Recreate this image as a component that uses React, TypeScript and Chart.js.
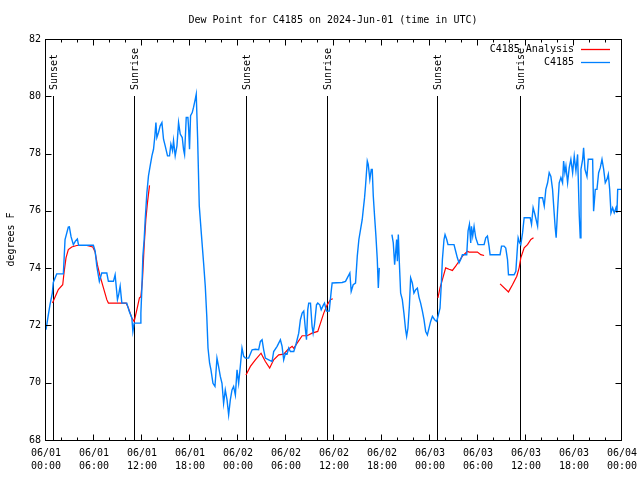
import React, { useEffect, useRef } from 'react';
import { Chart, registerables } from 'chart.js';

Chart.register(...registerables);

const FONT = '"DejaVu Sans Mono", "Liberation Mono", monospace';

const titleText = 'Dew Point for C4185 on 2024-Jun-01 (time in UTC)';
const yAxisTitle = 'degrees F';
const seriesNames = ['C4185 Analysis', 'C4185'];
const seriesColors = ['#ff0000', '#0080ff'];

const tickDates = ['06/01', '06/01', '06/01', '06/01', '06/02', '06/02', '06/02', '06/02', '06/03', '06/03', '06/03', '06/03', '06/04'];
const tickTimes = ['00:00', '06:00', '12:00', '18:00', '00:00', '06:00', '12:00', '18:00', '00:00', '06:00', '12:00', '18:00', '00:00'];

const sunLabels = ['Sunset', 'Sunrise', 'Sunset', 'Sunrise', 'Sunset', 'Sunrise'];
const sunHours = [0.91, 11.06, 24.96, 35.1, 48.87, 59.19];
const sunLineTop = 80;

// C4185 observations (hours since 06/01 00:00 UTC, degrees F)
const obsHours = [
  0, 0.25, 0.5, 0.79, 0.91, 1.34, 2.17, 2.38, 2.79, 2.92, 3.13, 3.42, 3.69, 3.92, 4.07, 5.92,
  6.14, 6.35, 6.67, 6.97, 7.6, 7.8, 8.43, 8.64, 8.93, 9.08, 9.27, 9.48, 10.1, 10.39, 10.73, 10.86,
  11.02, 11.77, 11.86, 11.98, 12.11, 12.27, 12.4, 12.61, 12.81, 13.02, 13.24, 13.44, 13.61, 13.74,
  13.86, 14.06, 14.27, 14.49, 14.69, 14.9, 15.19, 15.44, 15.61, 15.82, 15.94, 16.15, 16.37, 16.57,
  16.78, 17.03, 17.19, 17.32, 17.53, 17.74, 17.82, 17.94, 18.07, 18.28, 18.44, 18.66, 18.78, 18.95,
  19.16, 19.41, 19.7, 19.91, 20.1, 20.25, 20.45, 20.62, 20.87, 21.12, 21.37, 21.57, 21.79, 22.0,
  22.2, 22.41, 22.63, 22.83, 23.04, 23.25, 23.45, 23.67, 23.88, 24.08, 24.29, 24.5, 24.71, 24.92,
  25.33, 25.76, 26.17, 26.58, 26.8, 27.01, 27.21, 27.42, 27.84, 28.26, 28.46, 28.89, 29.3, 29.51,
  29.71, 29.93, 30.14, 30.34, 30.55, 30.97, 31.18, 31.39, 31.59, 31.8, 32.02, 32.22, 32.43, 32.56,
  32.72, 32.84, 33.06, 33.26, 33.39, 33.56, 33.81, 33.97, 34.22, 34.4, 34.65, 34.81, 35.06, 35.4,
  35.65, 35.77, 37.02, 37.44, 37.98, 38.15, 38.4, 38.69, 38.91, 39.11, 39.32, 39.53, 39.66, 39.82,
  39.94, 40.03, 40.16, 40.28, 40.48, 40.66, 40.78, 40.91, 41.07, 41.24, 41.41, 41.54, 41.66, 42.4,
  43.24, 43.41, 43.58, 43.7, 43.83, 43.92, 44.04, 44.17, 44.33, 44.54, 44.74, 44.95, 45.08, 45.24,
  45.42, 45.58, 45.79, 45.99, 46.21, 46.42, 46.62, 46.83, 47.05, 47.25, 47.46, 47.67, 47.87, 48.08,
  48.3, 48.58, 48.84, 49.0, 49.25, 49.42, 49.55, 49.75, 49.88, 50.09, 50.25, 51.0, 51.21, 51.42,
  51.63, 51.84, 52.05, 52.59, 52.76, 52.93, 53.09, 53.18, 53.34, 53.51, 53.72, 54.01, 54.76, 54.97,
  55.18, 55.38, 55.51, 56.76, 56.94, 57.26, 57.47, 57.69, 57.81, 58.51, 58.73, 58.94, 59.02, 59.19,
  59.35, 59.57, 59.77, 60.52, 60.69, 60.89, 61.11, 61.45, 61.65, 62.07, 62.28, 62.48, 62.7, 62.9,
  63.11, 63.32, 63.52, 63.65, 63.77, 63.95, 64.15, 64.36, 64.57, 64.7, 64.86, 64.99, 65.2, 65.4,
  65.61, 65.83, 66.03, 66.24, 66.45, 66.66, 66.78, 66.87, 67.08, 67.2, 67.37, 67.62, 67.78, 68.33,
  68.45, 68.66, 68.87, 69.08, 69.28, 69.5, 69.71, 69.91, 70.12, 70.29, 70.46, 70.62, 70.83, 71.03,
  71.25, 71.37, 71.46, 71.88,
];
const obsValues = [
  71.85, 72.3, 72.73, 73.13, 73.5, 73.8, 73.8, 75.0, 75.43, 75.44, 75.1, 74.82, 74.95, 75.02, 74.8, 74.8,
  74.6, 74.07, 73.54, 73.83, 73.83, 73.54, 73.54, 73.77, 72.9, 73.07, 73.37, 72.78, 72.78, 72.5, 72.26, 71.79,
  72.08, 72.08, 72.43, 73.25, 74.42, 75.0, 75.7, 76.63, 77.22, 77.57, 77.92, 78.15, 78.62, 79.08,
  78.56, 78.73, 78.97, 79.08, 78.5, 78.27, 77.92, 77.92, 78.33, 78.1, 78.45, 77.92, 78.27, 79.08,
  78.68, 78.56, 78.15, 77.97, 79.26, 79.26, 78.91, 78.15, 79.32, 79.43, 79.61, 79.9, 80.07, 78.56,
  76.17, 75.23, 74.18, 73.37, 72.3, 71.21, 70.68, 70.45, 69.98, 69.87, 70.86, 70.57, 70.22, 69.98,
  69.28, 69.75, 69.4, 68.88, 69.4, 69.75, 69.87, 69.57, 70.45, 69.98, 70.57, 71.21, 70.92, 70.86,
  70.86, 71.15, 71.17, 71.15, 71.44, 71.5, 71.15, 70.86, 70.8, 70.74, 71.09, 71.27, 71.5, 71.27,
  70.8, 71.03, 71.0, 71.21, 71.09, 71.09, 71.27, 71.5, 71.73, 72.2, 72.43, 72.5, 71.85, 71.5,
  72.55, 72.78, 72.78, 71.97, 71.73, 72.03, 72.72, 72.78, 72.72, 72.55, 72.7, 72.78, 72.5, 72.5,
  73.19, 73.48, 73.5, 73.54, 73.83, 73.19, 73.42, 73.48, 74.42, 75.0, 75.35, 75.7, 76.05, 76.46,
  76.87, 77.22, 77.74, 77.62, 77.1, 77.45, 77.45, 76.52, 75.82, 75.12, 74.3, 73.31, 74.01, null,
  75.17, 74.88, 74.12, 74.53, 75.0, 74.24, 75.17, 74.18, 73.13, 72.9, 72.43, 71.85, 71.62, 71.9,
  72.67, 73.66, 73.48, 73.13, 73.25, 73.3, 72.99, 72.78, 72.5, 72.2, 71.79, 71.67, 71.9, 72.14,
  72.32, 72.2, 72.14, 72.32, 72.6, 73.48, 74.3, 75.0, 75.17, 75.0, 74.82, 74.82, 74.59, 74.36,
  74.18, 74.3, 74.47, 74.47, 75.3, 75.53, 74.88, 75.46, 75.12, 75.46, 75.06, 74.82, 74.82, 75.06,
  75.12, 74.77, 74.47, 74.47, 74.77, 74.77, 74.7, 74.3, 73.77, 73.77, 73.89, 74.77, 75.06, 74.9,
  74.82, 75.23, 75.76, 75.76, 75.53, 76.11, 75.88, 75.47, 76.46, 76.46, 76.17, 76.75, 76.98, 77.33,
  77.2, 76.75, 75.93, 75.41, 75.06, 76.05, 76.98, 77.16, 76.98, 77.74, 77.33, 77.56, 76.98, 77.5,
  77.8, 77.33, 77.91, 77.4, 77.97, 75.82, 75.06, 77.45, 77.8, 78.2, 77.45, 77.2, 77.8, 77.8,
  75.99, 76.75, 76.75, 77.33, 77.5, 77.8, 77.45, 76.98, 77.1, 77.28, 76.75, 75.93, 76.11, 75.93,
  76.11, 75.93, 76.75, 76.75,
];

// C4185 Analysis (null = break between analysis runs)
const anaHours = [
  0.81, 1.54, 2.09, 2.25, 2.5, 2.79, 3.22, 3.84, 5.1, 5.85, 6.14, 6.42, 6.76, 7.18, 7.6, 7.8,
  10.02, 10.31, 10.73, 11.02, 11.36, 11.68, 11.86, 12.06, 12.27, 12.48, 12.68, 12.94, 18.0,
  25.0, 25.55, 26.17, 26.88, 27.42, 27.96, 28.46, 29.09, 29.71, 30.21, 30.77, 30.97, 31.39, 32.02,
  32.64, 33.26, 33.97, 34.31, 34.72, 35.15, 35.56, 35.85, 42.0,
  48.99, 49.25, 49.55, 49.96, 50.38, 50.8, 51.21, 51.63, 52.05, 52.68, 52.88, 53.93, 54.35, 54.76, 55.5,
  56.76, 57.81, 58.31, 58.85, 59.14, 59.35, 59.77, 60.19, 60.61, 60.94,
];
const anaValues = [
  72.78, 73.25, 73.42, 73.83, 74.36, 74.65, 74.74, 74.79, 74.79, 74.74, 74.56, 74.12, 73.72, 73.31, 72.9, 72.78,
  72.78, 72.6, 72.26, 72.14, 72.55, 72.96, 73.0, 73.6, 74.77, 75.7, 76.28, 76.89, null,
  70.27, 70.57, 70.8, 71.03, 70.74, 70.51, 70.8, 70.97, 71.0, 71.15, 71.27, 71.2, 71.38, 71.64,
  71.64, 71.73, 71.79, 72.08, 72.43, 72.72, 72.9, 72.93, null,
  72.96, 73.31, 73.6, 74.01, 73.96, 73.92, 74.07, 74.24, 74.42, 74.59, 74.56, 74.56, 74.47, 74.44, null,
  73.45, 73.17, 73.42, 73.72, 74.01, 74.36, 74.71, 74.82, 75.0, 75.06,
];

const decorPlugin = {
  id: 'decor',
  beforeDatasetsDraw(chart: any) {
    const { ctx, chartArea: a, scales } = chart;
    const x = scales.x;
    const y = scales.y;
    const top = Math.round(y.getPixelForValue(sunLineTop));
    ctx.save();
    ctx.strokeStyle = '#000';
    ctx.lineWidth = 1;
    ctx.fillStyle = '#000';
    ctx.font = `10px ${FONT}`;
    sunHours.forEach((h, i) => {
      const px = Math.round(x.getPixelForValue(h)) + 0.5;
      ctx.beginPath();
      ctx.moveTo(px, top);
      ctx.lineTo(px, a.bottom);
      ctx.stroke();
      ctx.save();
      ctx.translate(px + 1, top - 6);
      ctx.rotate(-Math.PI / 2);
      ctx.textAlign = 'left';
      ctx.textBaseline = 'middle';
      ctx.fillText(sunLabels[i], 0, 0);
      ctx.restore();
    });
    ctx.restore();
  },
  afterDraw(chart: any) {
    const { ctx, chartArea: a, scales } = chart;
    const x = scales.x;
    const y = scales.y;
    const L = Math.round(a.left) - 0.5;
    const R = Math.round(a.right) - 0.5;
    const T = Math.round(a.top) + 0.5;
    const B = Math.round(a.bottom) + 0.5;
    ctx.save();
    ctx.strokeStyle = '#000';
    ctx.lineWidth = 1;
    ctx.strokeRect(L, T, R - L, B - T);
    ctx.beginPath();
    for (let h = 0; h <= 72; h += 2) {
      const px = Math.round(x.getPixelForValue(h)) - 0.5;
      const len = h % 6 === 0 ? 6 : 3;
      ctx.moveTo(px, B);
      ctx.lineTo(px, B - len);
      ctx.moveTo(px, T);
      ctx.lineTo(px, T + len);
    }
    for (let v = 68; v <= 82; v += 2) {
      const py = Math.round(y.getPixelForValue(v)) + 0.5;
      ctx.moveTo(L, py);
      ctx.lineTo(L + 6, py);
      ctx.moveTo(R, py);
      ctx.lineTo(R - 6, py);
    }
    ctx.stroke();

    // title
    ctx.fillStyle = '#000';
    ctx.font = `10px ${FONT}`;
    ctx.textAlign = 'center';
    ctx.textBaseline = 'middle';
    ctx.fillText(titleText, (a.left + a.right) / 2 - 1, 20);

    // legend
    const legendTextRight = a.right - 48;
    const lineStart = a.right - 41;
    const lineEnd = a.right - 12;
    seriesNames.forEach((name, i) => {
      const ly = a.top + 10 + i * 13;
      ctx.fillStyle = '#000';
      ctx.textAlign = 'right';
      ctx.fillText(name, legendTextRight, ly);
      ctx.strokeStyle = seriesColors[i];
      ctx.lineWidth = 1.3;
      ctx.beginPath();
      ctx.moveTo(lineStart, Math.round(ly) + 0.5);
      ctx.lineTo(lineEnd, Math.round(ly) + 0.5);
      ctx.stroke();
    });
    ctx.restore();
  },
};

export default function App() {
  const ref = useRef<HTMLCanvasElement | null>(null);
  useEffect(() => {
    if (!ref.current) return;
    const obsData = obsHours.map((h, i) => ({ x: h, y: obsValues[i] }));
    const anaData = anaHours.map((h, i) => ({ x: h, y: anaValues[i] }));
    const chart = new Chart(ref.current, {
      type: 'line',
      data: {
        datasets: [
          {
            label: seriesNames[0],
            data: anaData,
            borderColor: seriesColors[0],
            borderWidth: 1.2,
            pointRadius: 0,
            spanGaps: false,
            order: 1,
          },
          {
            label: seriesNames[1],
            data: obsData,
            borderColor: seriesColors[1],
            borderWidth: 1.4,
            pointRadius: 0,
            spanGaps: false,
            order: 0,
          },
        ],
      },
      options: {
        responsive: false,
        animation: false,
        devicePixelRatio: 1,
        layout: { padding: { top: 39, right: 18, left: 0, bottom: 0 } },
        plugins: {
          legend: { display: false },
          tooltip: { enabled: false },
          title: { display: false },
        },
        elements: { line: { tension: 0 }, point: { radius: 0 } },
        scales: {
          x: {
            type: 'linear',
            min: 0,
            max: 72,
            grid: { display: false, drawTicks: false },
            border: { display: false },
            ticks: {
              stepSize: 6,
              autoSkip: false,
              maxRotation: 0,
              minRotation: 0,
              padding: 7,
              color: '#000',
              font: { family: FONT, size: 10, lineHeight: 1.3 },
              callback: (v: any) => {
                const i = Math.round(Number(v) / 6);
                return [tickDates[i], tickTimes[i]];
              },
            },
            afterFit: (s: any) => {
              s.height = 40;
              s.paddingLeft = 0;
              s.paddingRight = 0;
            },
          },
          y: {
            min: 68,
            max: 82,
            grid: { display: false, drawTicks: false },
            border: { display: false },
            ticks: {
              stepSize: 2,
              padding: 5,
              color: '#000',
              font: { family: FONT, size: 10 },
            },
            title: {
              display: true,
              text: yAxisTitle,
              color: '#000',
              font: { family: FONT, size: 10 },
              padding: { top: 5, bottom: 0 },
            },
            afterFit: (s: any) => {
              s.width = 46;
              s.paddingTop = 0;
              s.paddingBottom = 0;
            },
          },
        },
      },
      plugins: [decorPlugin],
    });
    return () => chart.destroy();
  }, []);
  return (
    <canvas
      ref={ref}
      width={640}
      height={480}
      style={{ position: 'fixed', left: 0, top: 0, width: 640, height: 480, background: '#fff' }}
    />
  );
}
